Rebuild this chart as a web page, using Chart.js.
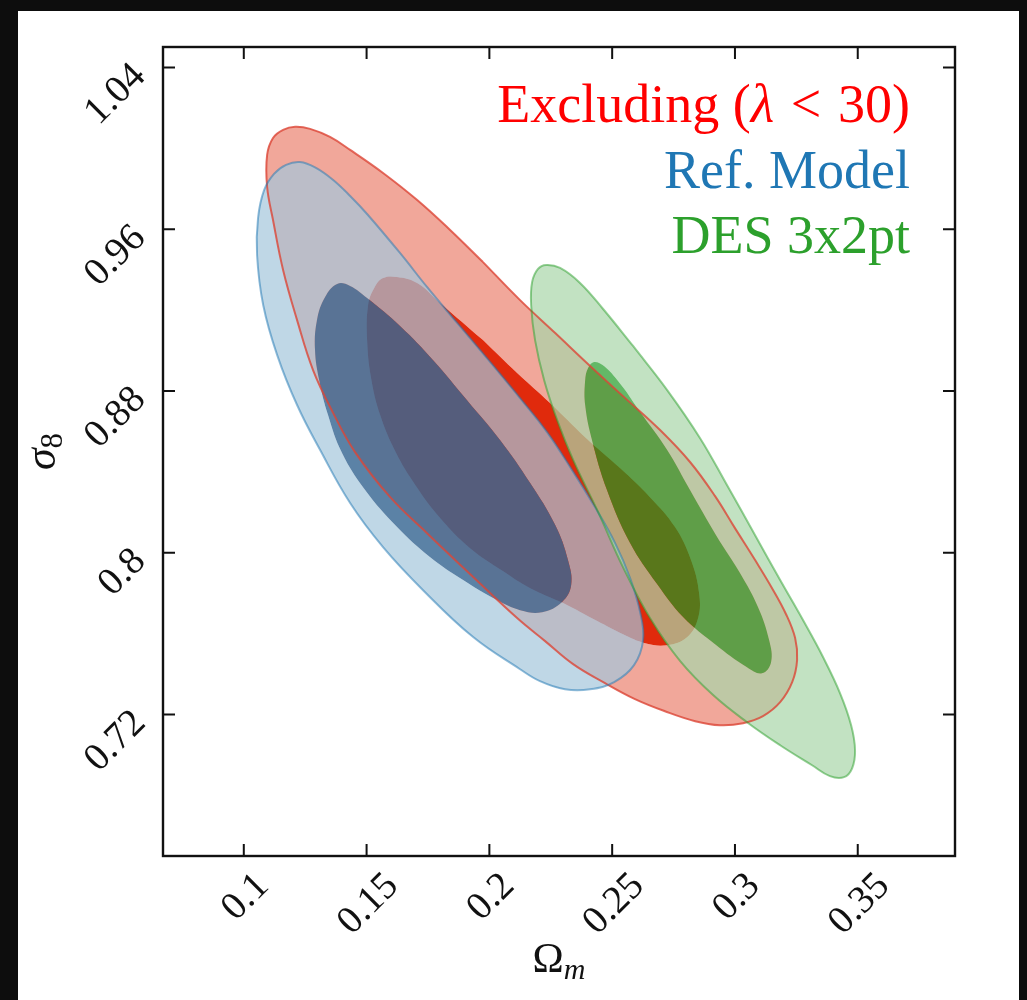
<!DOCTYPE html>
<html>
<head>
<meta charset="utf-8">
<script src="https://cdn.jsdelivr.net/npm/chart.js@4.4.1/dist/chart.umd.min.js"></script>
<style>
  html, body { margin: 0; padding: 0; background: #0d0d0d; }
  #panel { position: absolute; left: 18px; top: 11px; width: 1001px; height: 989px; background: #fff; }
  #wrap { position: absolute; left: 0; top: 0; width: 1027px; height: 1000px; }
</style>
</head>
<body>
<div id="panel"></div>
<div id="wrap"><canvas id="c" width="1027" height="1000"></canvas></div>
<script>
// contour outlines, [Omega_m, sigma_8]
const redOuter = [[0.1974,0.9438],[0.2125,0.9250],[0.2268,0.9087],[0.2410,0.8924],[0.2553,0.8765],[0.2695,0.8607],[0.2817,0.8449],[0.2919,0.8280],[0.3000,0.8122],[0.3082,0.7964],[0.3151,0.7825],[0.3208,0.7696],[0.3245,0.7578],[0.3253,0.7469],[0.3233,0.7360],[0.3184,0.7261],[0.3114,0.7192],[0.3033,0.7157],[0.2939,0.7147],[0.2838,0.7167],[0.2715,0.7216],[0.2593,0.7276],[0.2471,0.7355],[0.2341,0.7449],[0.2227,0.7563],[0.2113,0.7677],[0.1934,0.7880],[0.1746,0.8097],[0.1596,0.8275],[0.1453,0.8498],[0.1364,0.8691],[0.1282,0.8904],[0.1217,0.9151],[0.1160,0.9399],[0.1119,0.9646],[0.1095,0.9810],[0.1095,0.9968],[0.1119,1.0052],[0.1160,1.0092],[0.1209,1.0107],[0.1270,1.0097],[0.1351,1.0057],[0.1433,0.9993],[0.1567,0.9879],[0.1706,0.9745],[0.1840,0.9597]];
const redInner = [[0.1974,0.9052],[0.2113,0.8889],[0.2247,0.8741],[0.2390,0.8572],[0.2532,0.8419],[0.2654,0.8275],[0.2756,0.8127],[0.2821,0.7964],[0.2854,0.7800],[0.2850,0.7677],[0.2805,0.7582],[0.2724,0.7543],[0.2634,0.7553],[0.2544,0.7597],[0.2439,0.7662],[0.2300,0.7751],[0.2166,0.7825],[0.2056,0.7909],[0.1921,0.8023],[0.1799,0.8172],[0.1698,0.8335],[0.1620,0.8493],[0.1555,0.8681],[0.1518,0.8864],[0.1502,0.9052],[0.1506,0.9226],[0.1531,0.9310],[0.1567,0.9359],[0.1624,0.9364],[0.1706,0.9334],[0.1799,0.9236]];
const blueOuter = [[0.1869,0.9137],[0.2003,0.8944],[0.2125,0.8765],[0.2235,0.8597],[0.2337,0.8409],[0.2430,0.8226],[0.2512,0.8048],[0.2573,0.7875],[0.2614,0.7706],[0.2626,0.7568],[0.2589,0.7444],[0.2508,0.7360],[0.2410,0.7325],[0.2308,0.7325],[0.2206,0.7365],[0.2125,0.7424],[0.1934,0.7583],[0.1730,0.7815],[0.1567,0.8028],[0.1433,0.8246],[0.1311,0.8508],[0.1217,0.8731],[0.1136,0.8978],[0.1079,0.9226],[0.1054,0.9473],[0.1058,0.9656],[0.1083,0.9795],[0.1123,0.9874],[0.1172,0.9919],[0.1229,0.9933],[0.1294,0.9904],[0.1364,0.9844],[0.1433,0.9765],[0.1502,0.9676],[0.1636,0.9483],[0.1746,0.9315]];
const blueInner = [[0.1909,0.8755],[0.2044,0.8557],[0.2166,0.8345],[0.2268,0.8137],[0.2320,0.7964],[0.2333,0.7840],[0.2296,0.7756],[0.2215,0.7706],[0.2125,0.7716],[0.2031,0.7766],[0.1893,0.7865],[0.1759,0.7978],[0.1624,0.8127],[0.1494,0.8310],[0.1400,0.8493],[0.1343,0.8681],[0.1307,0.8854],[0.1290,0.9003],[0.1298,0.9151],[0.1331,0.9265],[0.1380,0.9330],[0.1433,0.9320],[0.1502,0.9260],[0.1636,0.9122],[0.1771,0.8953]];
const greenOuter = [[0.2585,0.9023],[0.2724,0.8805],[0.2858,0.8567],[0.2972,0.8325],[0.3082,0.8087],[0.3184,0.7865],[0.3277,0.7667],[0.3359,0.7483],[0.3428,0.7305],[0.3473,0.7147],[0.3489,0.7023],[0.3477,0.6934],[0.3444,0.6890],[0.3387,0.6895],[0.3314,0.6949],[0.3184,0.7048],[0.3049,0.7162],[0.2911,0.7296],[0.2777,0.7464],[0.2654,0.7677],[0.2544,0.7929],[0.2443,0.8201],[0.2341,0.8459],[0.2276,0.8656],[0.2223,0.8854],[0.2186,0.9052],[0.2170,0.9226],[0.2174,0.9339],[0.2198,0.9404],[0.2231,0.9424],[0.2288,0.9409],[0.2369,0.9335],[0.2463,0.9206]];
const greenInner = [[0.2614,0.8696],[0.2724,0.8508],[0.2817,0.8310],[0.2923,0.8087],[0.3021,0.7899],[0.3094,0.7731],[0.3139,0.7568],[0.3147,0.7459],[0.3110,0.7404],[0.3049,0.7434],[0.2919,0.7548],[0.2789,0.7682],[0.2683,0.7845],[0.2573,0.8048],[0.2479,0.8310],[0.2418,0.8557],[0.2390,0.8731],[0.2390,0.8854],[0.2402,0.8914],[0.2426,0.8944],[0.2467,0.8924],[0.2540,0.8825]];

const seriesNames = ['Excluding (λ < 30)', 'Ref. Model', 'DES 3x2pt'];
const xTicks = [0.1, 0.15, 0.2, 0.25, 0.3, 0.35];
const xTickLabels = ['0.1', '0.15', '0.2', '0.25', '0.3', '0.35'];
const yTicks = [0.72, 0.8, 0.88, 0.96, 1.04];
const yTickLabels = ['0.72', '0.8', '0.88', '0.96', '1.04'];

const SERIF = '"Liberation Serif", "DejaVu Serif", serif';

const toPts = arr => arr.map(([x, y]) => ({ x, y }));
// closed loop
const loop = arr => { const p = toPts(arr); return [...p, p[0]]; };
// outer ring with the inner contour cut out: inner walked backwards,
// the cut goes in and comes back along the same straight segment
function ring(outer, inner) {
  const o = toPts(outer), i = toPts(inner);
  return [...o, o[0], o[0], i[0], i[0], ...i.slice(1).reverse(), i[0], i[0], o[0]];
}

const fillSet = (data, color) => ({ data, backgroundColor: color, fill: 'shape', borderWidth: 0, pointRadius: 0, tension: 0.4 });
const lineSet = (data, color) => ({ data, borderColor: color, fill: false, borderWidth: 2, pointRadius: 0, tension: 0.4, borderJoinStyle: 'round' });

// bottom -> top
const layers = [
  fillSet(ring(redOuter, redInner), 'rgba(225,60,30,0.45)'),
  fillSet(loop(redInner), 'rgba(223,33,2,0.96)'),
  fillSet(ring(blueOuter, blueInner), 'rgba(164,198,219,0.7)'),
  fillSet(loop(blueInner), 'rgba(58,105,148,0.83)'),
  fillSet(ring(greenOuter, greenInner), 'rgba(169,214,169,0.71)'),
  fillSet(loop(greenInner), 'rgba(29,154,35,0.69)'),
  lineSet(loop(redOuter), 'rgba(220,70,55,0.8)'),
  lineSet(loop(blueOuter), 'rgba(31,119,180,0.5)'),
  lineSet(loop(greenOuter), 'rgba(44,160,44,0.5)'),
];
layers.forEach((d, i) => { d.order = layers.length - i; });

const legendColors = ['#ff0000', '#1f77b4', '#2ca02c'];

// right-aligned legend line; λ in italics, relation sign gets math spacing
function richRight(ctx, text, right, base, size) {
  const parts = text.split(/(λ| < )/).filter(Boolean);
  const fonts = parts.map(p => (p === 'λ' ? 'italic ' : '') + size + 'px ' + SERIF);
  const pad = parts.map(p => (p === ' < ' ? size * 0.06 : 0));
  const ws = parts.map((p, i) => { ctx.font = fonts[i]; return ctx.measureText(p).width + 2 * pad[i]; });
  let xx = right - ws.reduce((s, w) => s + w, 0);
  parts.forEach((p, i) => { ctx.font = fonts[i]; ctx.fillText(p, xx + pad[i], base); xx += ws[i]; });
}

const axesDecor = {
  id: 'axesDecor',
  afterDraw(chart) {
    const { ctx, chartArea: a, scales: { x, y } } = chart;
    ctx.save();
    ctx.strokeStyle = '#111';
    ctx.lineWidth = 2;
    ctx.beginPath();
    xTicks.forEach(v => {
      const p = x.getPixelForValue(v);
      ctx.moveTo(p, a.bottom); ctx.lineTo(p, a.bottom - 12);
      ctx.moveTo(p, a.top); ctx.lineTo(p, a.top + 12);
    });
    yTicks.forEach(v => {
      const p = y.getPixelForValue(v);
      ctx.moveTo(a.left, p); ctx.lineTo(a.left + 12, p);
      ctx.moveTo(a.right, p); ctx.lineTo(a.right - 12, p);
    });
    ctx.stroke();
    ctx.lineWidth = 2.4;
    ctx.strokeRect(a.left, a.top, a.right - a.left, a.bottom - a.top);

    // tick labels, rotated 45 deg
    ctx.fillStyle = '#111';
    ctx.font = '39px ' + SERIF;
    ctx.textAlign = 'right';
    ctx.textBaseline = 'alphabetic';
    const h = 26;
    xTicks.forEach((v, i) => {
      const p = x.getPixelForValue(v);
      const w = ctx.measureText(xTickLabels[i]).width;
      ctx.save();
      ctx.translate(p + 0.707 * (w + h) / 2, a.bottom + 13 + 0.707 * h);
      ctx.rotate(-Math.PI / 4);
      ctx.fillText(xTickLabels[i], 0, 0);
      ctx.restore();
    });
    yTicks.forEach((v, i) => {
      const p = y.getPixelForValue(v);
      ctx.save();
      ctx.translate(a.left - 16, p + 10);
      ctx.rotate(-Math.PI / 4);
      ctx.fillText(yTickLabels[i], 0, 0);
      ctx.restore();
    });

    // axis titles
    ctx.textAlign = 'left';
    const cx = (a.left + a.right) / 2;
    ctx.font = '42px ' + SERIF;
    const wO = ctx.measureText('Ω').width;
    ctx.font = 'italic 30px ' + SERIF;
    const wm = ctx.measureText('m').width;
    const sx = cx - (wO + wm) / 2;
    ctx.font = '42px ' + SERIF;
    ctx.fillText('Ω', sx, 972);
    ctx.font = 'italic 30px ' + SERIF;
    ctx.fillText('m', sx + wO, 979);

    ctx.save();
    ctx.translate(55, (a.top + a.bottom) / 2);
    ctx.rotate(-Math.PI / 2);
    ctx.font = 'italic 44px ' + SERIF;
    const wS = ctx.measureText('σ').width;
    ctx.font = '31px ' + SERIF;
    const w8 = ctx.measureText('8').width;
    const s0 = -(wS + w8) / 2;
    ctx.font = 'italic 44px ' + SERIF;
    ctx.fillText('σ', s0, 0);
    ctx.font = '31px ' + SERIF;
    ctx.fillText('8', s0 + wS, 7);
    ctx.restore();

    // legend text
    const bases = [122, 188, 253];
    seriesNames.forEach((name, i) => {
      ctx.fillStyle = legendColors[i];
      richRight(ctx, name, 910, bases[i], 54);
    });
    ctx.restore();
  }
};

new Chart(document.getElementById('c'), {
  type: 'line',
  data: { datasets: layers },
  options: {
    responsive: false,
    devicePixelRatio: 1,
    animation: false,
    events: [],
    layout: { padding: { left: 163, right: 72, top: 47, bottom: 144 } },
    scales: {
      x: { type: 'linear', min: 0.0671, max: 0.3896, display: false },
      y: { type: 'linear', min: 0.65, max: 1.0502, display: false }
    },
    plugins: { legend: { display: false }, tooltip: { enabled: false } }
  },
  plugins: [axesDecor]
});
</script>
</body>
</html>
